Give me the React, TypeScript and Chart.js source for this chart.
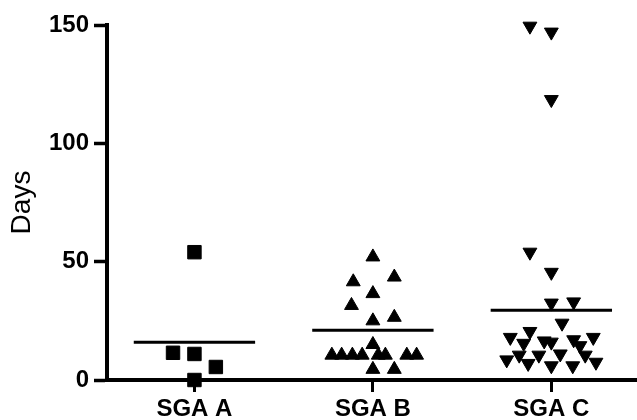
import React, { useEffect, useRef } from 'react';
import { Chart, registerables } from 'chart.js';

Chart.register(...registerables);

const categories = ['SGA A', 'SGA B', 'SGA C'];
const yTickValues = [0, 50, 100, 150];

// values (days) and horizontal spread (in category units) of each dot
const sgaAValues = [54, 11.5, 11, 5.5, 0];
const sgaAOffsets = [0, -0.12, 0, 0.12, 0];

const sgaBValues = [52, 43.5, 41.5, 36.5, 31.5, 26.5, 25, 15, 10.5, 10.5, 10.5, 10.5, 10.5, 10.5, 10.5, 10.5, 4.5, 4.5];
const sgaBOffsets = [0, 0.12, -0.11, 0, -0.12, 0.12, 0, 0, -0.23, -0.175, -0.115, -0.06, 0.03, 0.07, 0.19, 0.245, 0, 0.12];

const sgaCValues = [149.5, 147, 118.5, 54, 45.5, 32.5, 33, 24, 18, 20.5, 15.5, 16, 17, 18, 14.5, 16.5, 10.5, 10.5, 11, 10.5, 8.5, 7, 6, 6, 7.5];
const sgaCOffsets = [-0.12, 0, 0, -0.12, 0, 0, 0.125, 0.06, -0.23, -0.12, -0.155, 0, 0.125, 0.235, 0.16, -0.04, -0.18, -0.07, 0.05, 0.19, -0.25, -0.13, 0, 0.12, 0.25];

const groupMeans = [16, 21, 29.5];

const MEAN_HALF = 0.34;
const FONT = "'Liberation Sans', Arial, Helvetica, sans-serif";

export default function App() {
  const ref = useRef<HTMLCanvasElement>(null);

  useEffect(() => {
    const groups = [
      { values: sgaAValues, offsets: sgaAOffsets, style: 'rect', radius: 9.5, rotation: 0 },
      { values: sgaBValues, offsets: sgaBOffsets, style: 'triangle', radius: 8, rotation: 0 },
      { values: sgaCValues, offsets: sgaCOffsets, style: 'triangle', radius: 8, rotation: 180 },
    ];
    const datasets: any[] = [];
    groups.forEach((g, i) => {
      datasets.push({
        type: 'scatter',
        label: categories[i],
        data: g.values.map((v, k) => ({ x: i + g.offsets[k], y: v })),
        pointStyle: g.style,
        pointRadius: g.radius,
        pointRotation: g.rotation,
        backgroundColor: '#000',
        borderColor: '#000',
        borderWidth: 1,
        clip: false,
      });
      datasets.push({
        type: 'line',
        label: categories[i] + ' mean',
        data: [
          { x: i - MEAN_HALF, y: groupMeans[i] },
          { x: i + MEAN_HALF, y: groupMeans[i] },
        ],
        borderColor: '#000',
        borderWidth: 3,
        pointRadius: 0,
        showLine: true,
        fill: false,
        clip: false,
      });
    });

    const chart = new Chart(ref.current!, {
      type: 'scatter',
      data: { datasets },
      options: {
        animation: false,
        responsive: false,
        layout: { autoPadding: false, padding: { top: 25, left: 0, right: 0, bottom: 0 } },
        plugins: { legend: { display: false }, tooltip: { enabled: false } },
        scales: {
          x: {
            type: 'linear',
            min: -0.49,
            max: 2.48,
            afterBuildTicks: (s: any) => {
              s.ticks = categories.map((_, i) => ({ value: i }));
            },
            afterFit: (s: any) => {
              s.height = 40;
              s.paddingLeft = 0;
              s.paddingRight = 0;
            },
            ticks: {
              callback: (v: any) => categories[v] ?? '',
              font: { family: FONT, size: 24, weight: 'bold' },
              color: '#000',
              padding: 3,
              maxRotation: 0,
              autoSkip: false,
            },
            grid: {
              drawOnChartArea: false,
              drawTicks: true,
              tickLength: 12,
              tickWidth: 3,
              tickColor: '#000',
              color: '#000',
            },
            border: { display: true, color: '#000', width: 4 },
          },
          y: {
            type: 'linear',
            min: 0,
            max: 150,
            afterBuildTicks: (s: any) => {
              s.ticks = yTickValues.map((v) => ({ value: v }));
            },
            afterFit: (s: any) => {
              s.width = 107;
              s.paddingTop = 0;
              s.paddingBottom = 0;
            },
            ticks: {
              font: { family: FONT, size: 24, weight: 'bold' },
              color: '#000',
              padding: 5,
            },
            grid: {
              drawOnChartArea: false,
              drawTicks: true,
              tickLength: 13,
              tickWidth: 3.5,
              tickColor: '#000',
              color: '#000',
            },
            border: { display: true, color: '#000', width: 4 },
            title: {
              display: true,
              text: 'Days',
              font: { family: FONT, size: 28, weight: 'normal' },
              color: '#000',
              padding: { top: 5, bottom: 0 },
            },
          },
        },
      },
    } as any);
    return () => chart.destroy();
  }, []);

  return (
    <div style={{ position: 'absolute', left: 0, top: 0, width: 637, height: 420, background: '#fff' }}>
      <canvas ref={ref} width={637} height={420} style={{ display: 'block', width: 637, height: 420 }} />
    </div>
  );
}
